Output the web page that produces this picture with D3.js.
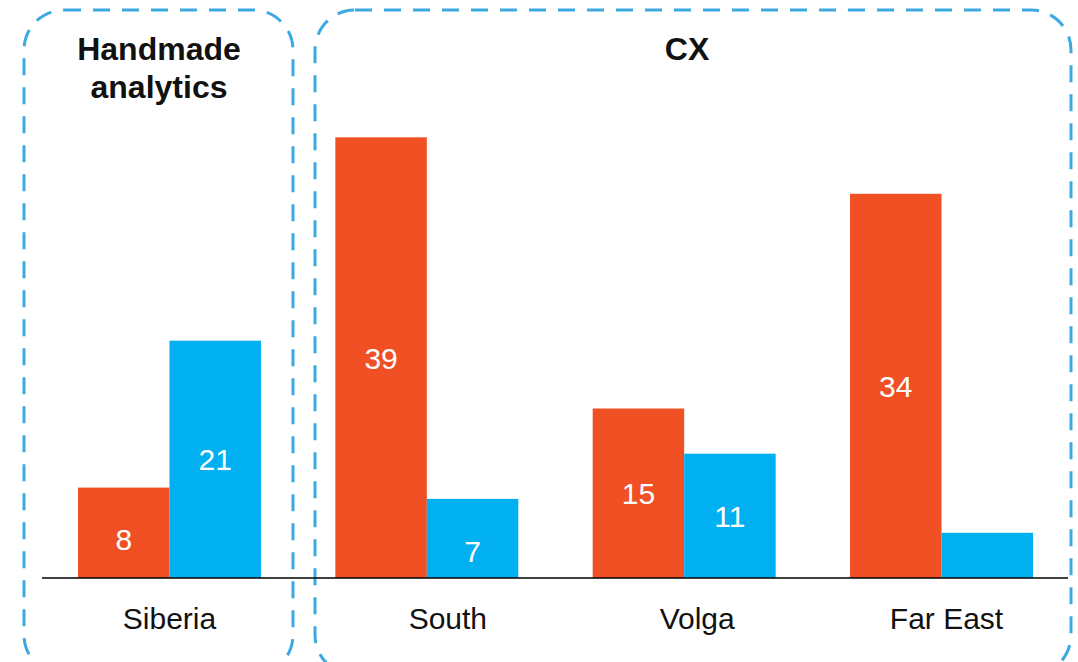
<!DOCTYPE html>
<html>
<head>
<meta charset="utf-8">
<script src="https://cdn.jsdelivr.net/npm/d3@7"></script>
<style>
  html, body { margin: 0; padding: 0; background: #fff; }
  svg { display: block; }
  text { font-family: "Liberation Sans", Arial, sans-serif; }
</style>
</head>
<body>
<svg id="chart" width="1078" height="662"></svg>
<script>
// ---- data ----
const categories = ["Siberia", "South", "Volga", "Far East"];
const seriesNames = ["A", "B"];
const orangeValues = [8, 39, 15, 34];
const blueValues = [21, 7, 11, 4];
const orangeLabels = ["8", "39", "15", "34"];
const blueLabels = ["21", "7", "11", null];
const groupTitles = [["Handmade", "analytics"], ["CX"]];

// ---- layout ----
const baseY = 578;
const colors = { A: "#F05023", B: "#00B0F0" };
const svg = d3.select("#chart");

const x0 = d3.scaleBand().domain(categories).range([78, 1033]).paddingInner(0.289).paddingOuter(0);
const x1 = d3.scaleBand().domain(seriesNames).range([0, x0.bandwidth()]).padding(0);
const y = d3.scaleLinear().domain([0, 40]).range([baseY, 126]);

const rows = categories.map((c, i) => ({
  cat: c,
  vals: [
    { s: "A", v: orangeValues[i], label: orangeLabels[i] },
    { s: "B", v: blueValues[i], label: blueLabels[i] }
  ]
}));

// dashed group frames
const frames = [
  { x: 24, y: 10, w: 269, h: 665, title: groupTitles[0], tx: 159 },
  { x: 315, y: 10, w: 756, h: 665, title: groupTitles[1], tx: 687 }
];
svg.selectAll("rect.frame").data(frames).join("rect")
  .attr("class", "frame")
  .attr("x", d => d.x).attr("y", d => d.y)
  .attr("width", d => d.w).attr("height", d => d.h)
  .attr("rx", 40).attr("ry", 40)
  .attr("fill", "none")
  .attr("stroke", "#3DA9E1")
  .attr("stroke-width", 3)
  .attr("stroke-dasharray", "17 12");

frames.forEach(f => {
  const t = svg.append("text")
    .attr("x", f.tx).attr("y", 60)
    .attr("text-anchor", "middle")
    .attr("font-size", 32).attr("font-weight", "bold")
    .attr("fill", "#111");
  f.title.forEach((line, i) => {
    t.append("tspan").attr("x", f.tx).attr("dy", i === 0 ? 0 : 38).text(line);
  });
});

// bars
const g = svg.selectAll("g.grp").data(rows).join("g")
  .attr("class", "grp")
  .attr("transform", d => `translate(${x0(d.cat)},0)`);

g.selectAll("rect.bar").data(d => d.vals).join("rect")
  .attr("class", "bar")
  .attr("x", d => x1(d.s))
  .attr("y", d => y(d.v))
  .attr("width", x1.bandwidth())
  .attr("height", d => baseY - y(d.v))
  .attr("fill", d => colors[d.s]);

g.selectAll("text.val").data(d => d.vals.filter(v => v.label)).join("text")
  .attr("class", "val")
  .attr("x", d => x1(d.s) + x1.bandwidth() / 2)
  .attr("y", d => {
    const h = baseY - y(d.v);
    const mid = (y(d.v) + baseY) / 2;
    const extra = h < 100 ? (100 - h) * 0.6 : 0;
    return mid + extra + 11;
  })
  .attr("text-anchor", "middle")
  .attr("font-size", 30)
  .attr("fill", "#fff")
  .text(d => d.label);

// axis baseline
svg.append("line")
  .attr("x1", 42).attr("x2", 1068)
  .attr("y1", baseY).attr("y2", baseY)
  .attr("stroke", "#000").attr("stroke-width", 1.5);

// category labels
const labelShift = d3.scaleOrdinal().domain(categories).range([0, 21, 13, 5]);
svg.selectAll("text.cat").data(categories).join("text")
  .attr("class", "cat")
  .attr("x", d => x0(d) + x0.bandwidth() / 2 + labelShift(d))
  .attr("y", 629)
  .attr("text-anchor", "middle")
  .attr("font-size", 30)
  .attr("fill", "#111")
  .text(d => d);
</script>
</body>
</html>
